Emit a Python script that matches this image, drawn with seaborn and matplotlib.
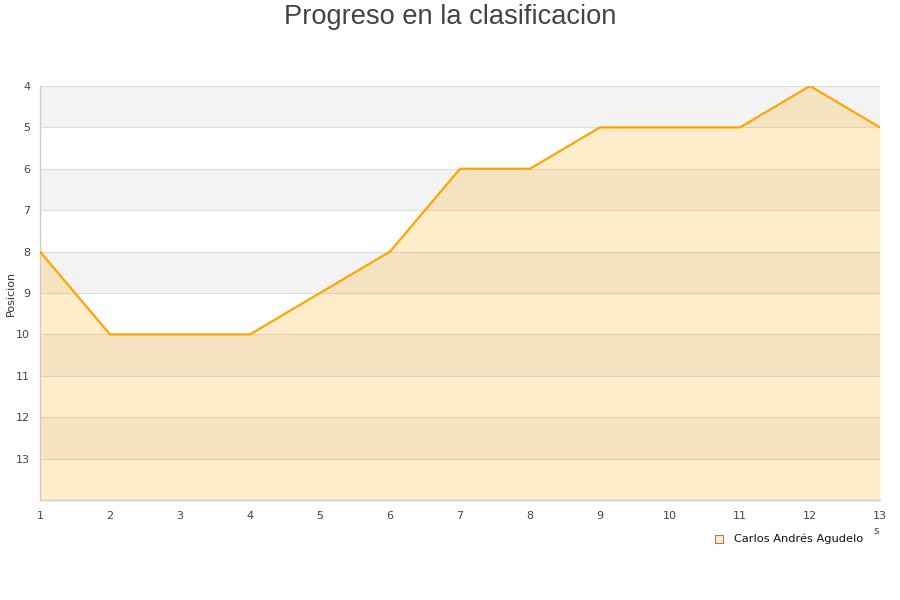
# Progreso en la clasificacion - area chart with inverted y axis
import pandas as pd
import matplotlib.pyplot as plt
import seaborn as sns

jornadas = [1, 2, 3, 4, 5, 6, 7, 8, 9, 10, 11, 12, 13]
posiciones = [8, 10, 10, 10, 9, 8, 6, 6, 5, 5, 5, 4, 5]
jugador = "Carlos Andrés Agudelo"
y_ticks = [4, 5, 6, 7, 8, 9, 10, 11, 12, 13]

df = pd.DataFrame({"Jornada": jornadas, "Posicion": posiciones})

sns.set_style("white")
plt.rcParams['font.family'] = ['DejaVu Sans']

fig = plt.figure(figsize=(9, 6), dpi=100)
ax = fig.add_axes([40 / 900, 100 / 600, 840 / 900, 414 / 600])

# alternating bands
for i in range(4, 14, 2):
    ax.axhspan(i, i + 1, color="#f3f3f3", zorder=0, lw=0)
for i in range(4, 15):
    ax.axhline(i, color="#dddddd", lw=0.8, zorder=1)

# area fill to the bottom
ax.fill_between(df["Jornada"], df["Posicion"], 14, color="#ffa500", alpha=0.2, lw=0, zorder=2)
sns.lineplot(data=df, x="Jornada", y="Posicion", color="#ffa500", lw=1.6, ax=ax, zorder=3)

ax.set_xlim(1, 13)
ax.set_ylim(14, 4)
ax.set_xticks(jornadas)
ax.set_yticks(y_ticks)
ax.tick_params(axis="both", length=0, labelsize=8, labelcolor="#444444")
ax.tick_params(axis="x", pad=8)
ax.tick_params(axis="y", pad=7)
for s in ["top", "right"]:
    ax.spines[s].set_visible(False)
for s in ["left", "bottom"]:
    ax.spines[s].set_color("#cccccc")
    ax.spines[s].set_linewidth(1)
ax.set_xlabel("")
ax.set_ylabel("")

fig.text(11 / 900, 1 - 293 / 600, "Posicion", rotation=90, ha="center", va="center",
         fontsize=8, color="#333333")
fig.text(0.5, 1 - 17 / 600, "Progreso en la clasificacion", ha="center", va="center",
         fontsize=19.6, color="#444444", family="Liberation Sans")
fig.text(876 / 900, 1 - 531 / 600, "s", ha="center", va="center", fontsize=7.5, color="#444444")

# legend
leg_ax = fig.add_axes([0, 0, 1, 1], zorder=-1)
leg_ax.set_axis_off()
leg_ax.set_xlim(0, 900)
leg_ax.set_ylim(600, 0)
leg_ax.scatter([719], [539], marker="s", s=30, facecolor="#ffedcc", edgecolor="#a08060", lw=0.8)
leg_ax.text(734, 539, jugador, ha="left", va="center", fontsize=8.2, color="#111111")

fig.savefig("out.png", dpi=100)
